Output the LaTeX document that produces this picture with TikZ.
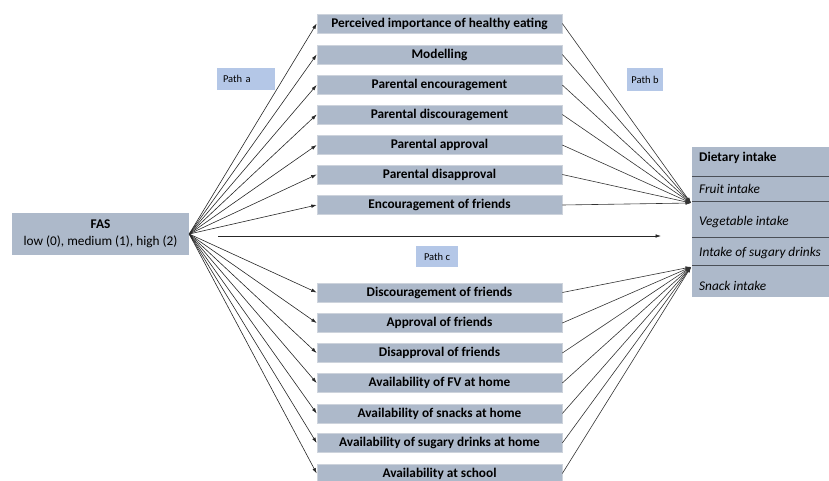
\documentclass[tikz,border=0pt]{standalone}
\usepackage{fontspec}
\setmainfont{Carlito}
\usetikzlibrary{arrows.meta}
\definecolor{boxfill}{HTML}{ADB9CA}
\definecolor{boxline}{HTML}{CDD3DC}
\definecolor{pathfill}{HTML}{B4C7E7}
\definecolor{divline}{HTML}{4A4F57}
\tikzset{
  factor/.style={fill=boxfill, draw=boxline, line width=0.6pt, minimum width=245pt,
    minimum height=19pt, inner sep=0pt, font=\bfseries\fontsize{13.3}{15}\selectfont},
  pathlabel/.style={fill=pathfill, inner sep=0pt, font=\fontsize{10.5}{12}\selectfont},
  link/.style={draw=black!85, line width=0.6pt, -{Latex[length=5.5pt,width=3.6pt]}},
  outlink/.style={draw=black!80, line width=0.6pt, -{Latex[length=5.5pt,width=3.6pt]}},
  outcome/.style={anchor=west, inner sep=0pt, font=\itshape\fontsize{13.3}{15}\selectfont},
  divider/.style={draw=divline, line width=0.9pt}
}
\begin{document}
\begin{tikzpicture}[x=1pt,y=-1pt]
\useasboundingbox (0,0) rectangle (829,480);

% exposure
\node[fill=boxfill, minimum width=177pt, minimum height=42pt, inner sep=0pt,
      align=center, font=\fontsize{13.3}{16.5}\selectfont] (fas) at (100.5,234)
  {\textbf{FAS}\\low (0), medium (1), high (2)};

% mediators
\node[factor] (m1)  at (439.5,23.5)  {Perceived importance of healthy eating};
\node[factor] (m2)  at (439.5,54.5)  {Modelling};
\node[factor] (m3)  at (439.5,85)    {Parental encouragement};
\node[factor] (m4)  at (439.5,114.5) {Parental discouragement};
\node[factor] (m5)  at (439.5,145)   {Parental approval};
\node[factor] (m6)  at (439.5,174.5) {Parental disapproval};
\node[factor] (m7)  at (439.5,205)   {Encouragement of friends};
\node[factor] (m8)  at (439.5,292.5) {Discouragement of friends};
\node[factor] (m9)  at (439.5,323)   {Approval of friends};
\node[factor] (m10) at (439.5,353)   {Disapproval of friends};
\node[factor] (m11) at (439.5,383)   {Availability of FV at home};
\node[factor] (m12) at (439.5,413.5) {Availability of snacks at home};
\node[factor] (m13) at (439.5,443)   {Availability of sugary drinks at home};
\node[factor] (m14) at (439.5,473.5) {Availability at school};

% outcome block
\node[fill=boxfill, minimum width=142pt, minimum height=150pt, inner sep=0pt] (diet) at (763,222) {};
\draw[divider] (692,176) -- (832,176);
\draw[divider] (692,201) -- (832,201);
\draw[divider] (692,237) -- (832,237);
\draw[divider] (692,265) -- (832,265);
\node[outcome, font=\bfseries\fontsize{13.3}{15}\selectfont] (o0) at (699,158) {Dietary intake};
\node[outcome] (o1) at (699,188.5) {Fruit intake};
\node[outcome] (o2) at (699,222)   {Vegetable intake};
\node[outcome] (o3) at (699,253.5) {Intake of sugary drinks};
\node[outcome] (o4) at (699,286)   {Snack intake};

% path labels
\node[pathlabel, minimum width=58pt, minimum height=22pt, text width=46pt, align=left] (pa) at (246,79) {Path a};
\node[pathlabel, minimum width=36pt, minimum height=23pt, align=center] (pb) at (645,79.5) {Path b};
\node[pathlabel, minimum width=42pt, minimum height=21pt, align=center] (pc) at (437,256.5) {Path c};

% arrow ends
\coordinate (inTop) at (691,203);
\coordinate (inBot) at (691,267);
\coordinate (cStart) at (218,236);
\coordinate (cEnd) at (661,236);

% path a
\foreach \i in {1,...,14} {
  \draw[link] (fas.east) -- (m\i.west);
}
% path b
\foreach \i in {1,...,7} {
  \draw[outlink] (m\i.east) -- (inTop);
}
\foreach \i in {8,...,14} {
  \draw[outlink] (m\i.east) -- (inBot);
}
% path c
\draw[link] (cStart) -- (cEnd);
\end{tikzpicture}
\end{document}
